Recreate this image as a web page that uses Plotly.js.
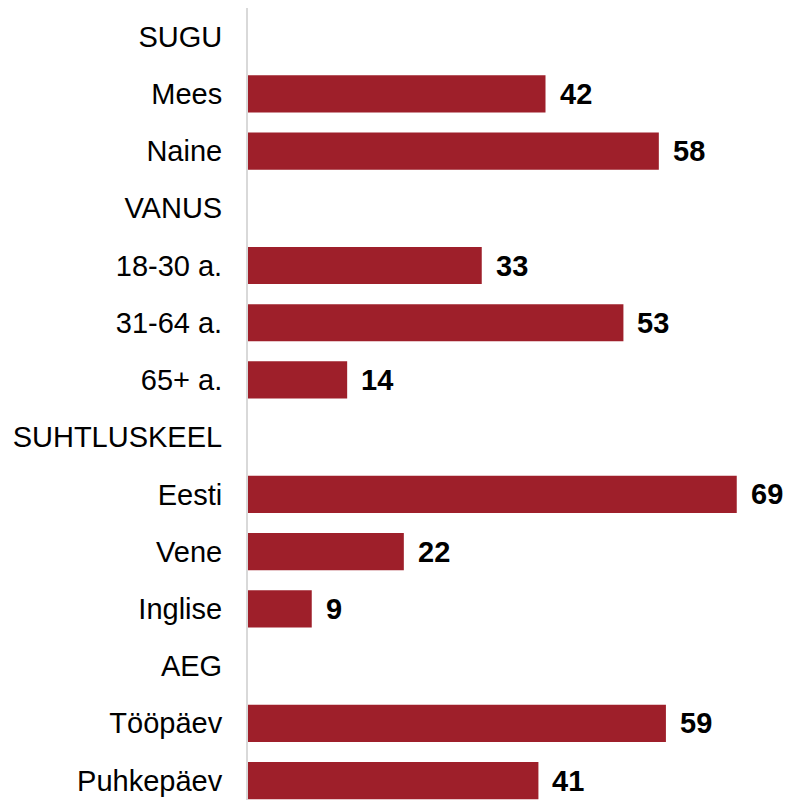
<!DOCTYPE html>
<html>
<head>
<meta charset="utf-8">
<script src="https://cdn.plot.ly/plotly-3.0.1.min.js"></script>
<style>html,body{margin:0;padding:0;background:#fff;overflow:hidden}</style>
</head>
<body>
<div id="chart" style="width:792px;height:800px"></div>
<script>
const categories = ["SUGU","Mees","Naine","VANUS","18-30 a.","31-64 a.","65+ a.","SUHTLUSKEEL","Eesti","Vene","Inglise","AEG","Tööpäev","Puhkepäev"];
const values = [null,42,58,null,33,53,14,null,69,22,9,null,59,41];

const annotations = [];
categories.forEach((c,i)=>{
  if(values[i]!==null){
    annotations.push({x:values[i], y:c, xref:'x', yref:'y', text:String(values[i]), showarrow:false,
      xanchor:'left', yanchor:'middle', xshift:12,
      font:{family:'Liberation Sans, Arial, sans-serif', size:29, color:'#000', weight:'bold'}});
  }
});

const trace = {
  type:'bar', orientation:'h', y:categories, x:values,
  marker:{color:'#9E1F2A'}, width:0.65, hoverinfo:'skip'
};

const layout = {
  width:792, height:800,
  margin:{l:248, r:0, t:8, b:0},
  paper_bgcolor:'#fff', plot_bgcolor:'#fff',
  showlegend:false,
  xaxis:{range:[0,76.8], showgrid:false, zeroline:false, showticklabels:false, showline:false, ticks:''},
  yaxis:{type:'category', range:[13.34,-0.5], showgrid:false, zeroline:false,
    showline:true, linecolor:'#d9d9d9', linewidth:2, ticks:'', ticklabelstandoff:18,
    tickfont:{family:'Liberation Sans, Arial, sans-serif', size:29, color:'#000'}},
  annotations:annotations
};
Plotly.newPlot('chart',[trace],layout,{displayModeBar:false,staticPlot:true});
</script>
</body>
</html>
